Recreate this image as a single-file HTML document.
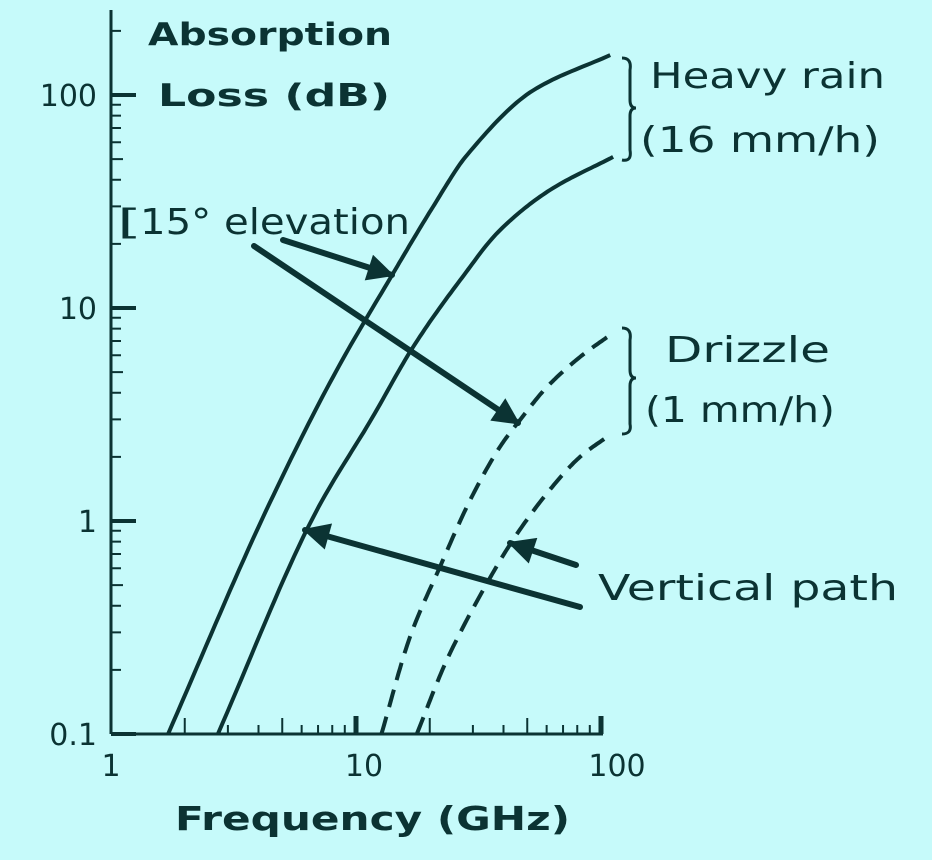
<!DOCTYPE html>
<html><head><meta charset="utf-8"><style>
html,body{margin:0;padding:0;background:#c6fafa;}
svg{display:block}
text{font-family:"DejaVu Sans","Liberation Sans",sans-serif;fill:#0b3333}
</style></head><body>
<svg width="932" height="860" viewBox="0 0 932 860">
<rect width="932" height="860" fill="#c6fafa"/>
<defs><marker id="ah" viewBox="0 0 10 10" refX="9" refY="5" markerWidth="5" markerHeight="4.5" orient="auto"><path d="M0,0L10,5L0,10z" fill="#0b3333"/></marker></defs>
<g id="axes"></g>
<g id="curves"></g>
<g id="ann">
<text x="148" y="45" font-size="31" font-weight="bold" textLength="244" lengthAdjust="spacingAndGlyphs">Absorption</text>
<text x="158" y="106" font-size="31" font-weight="bold" textLength="232" lengthAdjust="spacingAndGlyphs">Loss (dB)</text>
<text x="650" y="88" font-size="36" textLength="235" lengthAdjust="spacingAndGlyphs">Heavy rain</text>
<text x="640" y="152" font-size="36" textLength="240" lengthAdjust="spacingAndGlyphs">(16 mm/h)</text>
<text x="117" y="234" font-size="35" textLength="25" lengthAdjust="spacingAndGlyphs">[</text>
<text x="140" y="234" font-size="36" textLength="270" lengthAdjust="spacingAndGlyphs">15° elevation</text>
<text x="665" y="362" font-size="36" textLength="165" lengthAdjust="spacingAndGlyphs">Drizzle</text>
<text x="645" y="422" font-size="36" textLength="190" lengthAdjust="spacingAndGlyphs">(1 mm/h)</text>
<text x="598" y="600" font-size="36" textLength="300" lengthAdjust="spacingAndGlyphs">Vertical path</text>
<text x="175" y="830" font-size="33" font-weight="bold" textLength="395" lengthAdjust="spacingAndGlyphs">Frequency (GHz)</text>
<path d="M622,58 Q632,58 630,70 L630,100 Q630,108 636,108 Q630,108 630,116 L630,150 Q632,162 622,160" fill="none" stroke="#0b3333" stroke-width="3"/>
<path d="M622,328 Q632,328 630,340 L630,370 Q630,378 636,378 Q630,378 630,386 L630,424 Q632,434 622,434" fill="none" stroke="#0b3333" stroke-width="3"/>
<line x1="283" y1="240" x2="392" y2="275" stroke="#0b3333" stroke-width="6" stroke-linecap="round" marker-end="url(#ah)"/>
<line x1="254" y1="246" x2="518" y2="423" stroke="#0b3333" stroke-width="6" stroke-linecap="round" marker-end="url(#ah)"/>
<line x1="580" y1="607" x2="305" y2="530" stroke="#0b3333" stroke-width="6" stroke-linecap="round" marker-end="url(#ah)"/>
<line x1="576" y1="565" x2="510" y2="543" stroke="#0b3333" stroke-width="6" stroke-linecap="round" marker-end="url(#ah)"/>
</g>
</svg>
<script>
const heavyElevFreq=[1.71,4.17,8.06,14.2,20.6,28.4,52.8,109];
const heavyElevLoss=[0.1,1.04,4.75,14.6,29.8,52.3,105,154];
const heavyVertFreq=[2.73,6.68,11.7,17.1,26.6,38.7,61.9,112];
const heavyVertLoss=[0.1,1.04,3.08,6.56,13.5,23.2,35.8,51.2];
const drizElevFreq=[12.7,16.6,22.0,29.2,38.7,46.7,60.2,82.1,112];
const drizElevLoss=[0.1,0.285,0.608,1.25,2.23,2.98,4.26,5.89,7.63];
const drizVertFreq=[17.7,23.5,34.3,43.7,60.2,82.1,109];
const drizVertLoss=[0.1,0.223,0.512,0.814,1.35,2.0,2.54];
const xTicks=[1,10,100];
const yTicks=[0.1,1,10,100];
const xTickLabels=['1','10','100'];
const yTickLabels=['0.1','1','10','100'];
const NS="http://www.w3.org/2000/svg";
const X0=111,XD=245,Y0=521,YD=213;
function xs(f){return X0+Math.log10(f)*XD;}
function ys(v){return Y0-Math.log10(v)*YD;}
function mk(t,a,p){const e=document.createElementNS(NS,t);for(const k in a)e.setAttribute(k,a[k]);p.appendChild(e);return e;}
const ax=document.getElementById('axes');
const col="#0b3333";
let l=mk('line',{x1:X0,y1:10,x2:X0,y2:ys(0.1),stroke:col,'stroke-width':3},ax);


l=mk('line',{x1:X0,y1:ys(0.1),x2:xs(100)+2,y2:ys(0.1),stroke:col,'stroke-width':3},ax);


for(let d=-1;d<=2;d++){for(let m=1;m<=9;m++){const v=m*Math.pow(10,d);if(v>200)break;const y=ys(v);const len=m===1?25:(m===5?12:10);
const t=mk('line',{x1:X0,y1:y,x2:X0+len,y2:y,stroke:col,'stroke-width':m===1?4:2},ax);

}}
for(let d=0;d<=2;d++){for(let m=1;m<=9;m++){const v=m*Math.pow(10,d);if(v>100||v===1)continue;const x=xs(v);const len=(m===1)?18:(m===5||m===2?16:9);
const t=mk('line',{x1:x,y1:ys(0.1),x2:x,y2:ys(0.1)-len,stroke:col,'stroke-width':m===1?5:2},ax);

}}
yTicks.forEach((v,i)=>{const t=mk('text',{x:X0-14,y:ys(v)+11,'font-size':30,'text-anchor':'end'},ax);t.textContent=yTickLabels[i];

});
xTicks.forEach((v,i)=>{const t=mk('text',{x:xs(v)+8*i,y:ys(0.1)+42,'font-size':30,'text-anchor':'middle'},ax);t.textContent=xTickLabels[i];

});
// monotone cubic (Fritsch-Carlson) in log-log space, sampled
function path(fr,vals){
  const X=fr.map(f=>Math.log10(f)),Y=vals.map(v=>Math.log10(v)),n=X.length;
  const dl=[],m=[];
  for(let i=0;i<n-1;i++)dl.push((Y[i+1]-Y[i])/(X[i+1]-X[i]));
  m[0]=dl[0];m[n-1]=dl[n-2];
  for(let i=1;i<n-1;i++){m[i]=(dl[i-1]*dl[i]<=0)?0:2/(1/dl[i-1]+1/dl[i]);}
  let d='';
  for(let i=0;i<n-1;i++){const h=X[i+1]-X[i];
    for(let k=0;k<=20;k++){if(i>0&&k===0)continue;const t=k/20,t2=t*t,t3=t2*t;
      const y=(2*t3-3*t2+1)*Y[i]+(t3-2*t2+t)*h*m[i]+(-2*t3+3*t2)*Y[i+1]+(t3-t2)*h*m[i+1];
      const x=X[i]+t*h;
      d+=(d?' L':'M')+(X0+x*XD).toFixed(1)+','+(Y0-y*YD).toFixed(1);}}
  return d;}
const cg=document.getElementById('curves');
let c=mk('path',{d:path(heavyElevFreq,heavyElevLoss),fill:'none',stroke:col,'stroke-width':4},cg);


c=mk('path',{d:path(heavyVertFreq,heavyVertLoss),fill:'none',stroke:col,'stroke-width':4},cg);


c=mk('path',{d:path(drizElevFreq,drizElevLoss),fill:'none',stroke:col,'stroke-width':4,'stroke-dasharray':'18 10'},cg);


c=mk('path',{d:path(drizVertFreq,drizVertLoss),fill:'none',stroke:col,'stroke-width':4,'stroke-dasharray':'18 10'},cg);


</script>
</body></html>
